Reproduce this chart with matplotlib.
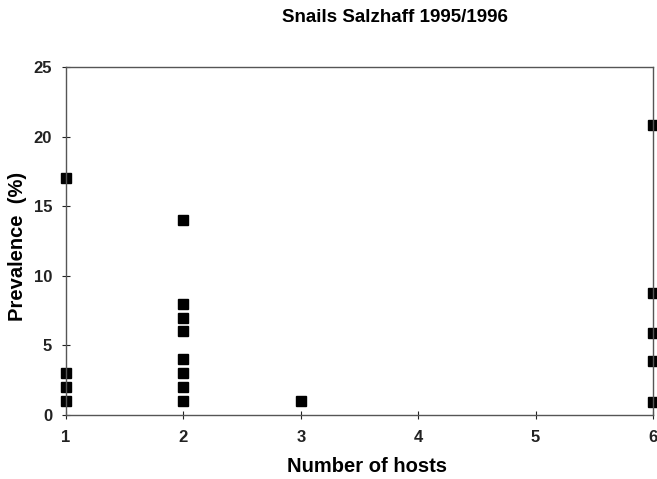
import matplotlib
matplotlib.use('Agg')
import matplotlib.pyplot as plt

plt.rcParams['font.family'] = ['Liberation Sans', 'DejaVu Sans']
plt.rcParams['font.weight'] = 'bold'

# Data
hosts_1 = [1, 1, 1, 1]
prev_1 = [17, 3, 2, 1]
hosts_2 = [2, 2, 2, 2, 2, 2, 2, 2]
prev_2 = [14, 8, 7, 6, 4, 3, 2, 1]
hosts_3 = [3]
prev_3 = [1]
hosts_6 = [6, 6, 6, 6, 6]
prev_6 = [20.8, 8.8, 5.9, 3.9, 0.9]

x_vals = hosts_1 + hosts_2 + hosts_3 + hosts_6
y_vals = prev_1 + prev_2 + prev_3 + prev_6

fig = plt.figure(figsize=(6.57, 4.79), dpi=100)
ax = fig.add_axes([66/657, 1 - 415/479, (653 - 66)/657, (415 - 67)/479])

ax.plot(x_vals, y_vals, 's', color='black', markersize=7, clip_on=False)

ax.set_xlim(1, 6)
ax.set_ylim(0, 25)
ax.set_xticks([1, 2, 3, 4, 5, 6])
ax.set_yticks([0, 5, 10, 15, 20, 25])
ax.tick_params(direction='inout', length=6, width=0.8, labelsize=12, colors='#222222')
ax.tick_params(axis='x', pad=8)
ax.tick_params(axis='y', pad=7)
for s in ax.spines.values():
    s.set_color('#555555')
    s.set_linewidth(1.0)

fig.text(367/657, 1 - 467/479, 'Number of hosts', ha='center', va='center', fontsize=14.5, fontweight='bold')
fig.text(18/657, 1 - 246/479, 'Prevalence  (%)', ha='center', va='center', rotation=90, fontsize=14.5, fontweight='bold')
fig.text(395/657, 1 - 17/479, 'Snails Salzhaff 1995/1996', ha='center', va='center', fontsize=13.5, fontweight='bold')

fig.savefig('out.png', dpi=100)
